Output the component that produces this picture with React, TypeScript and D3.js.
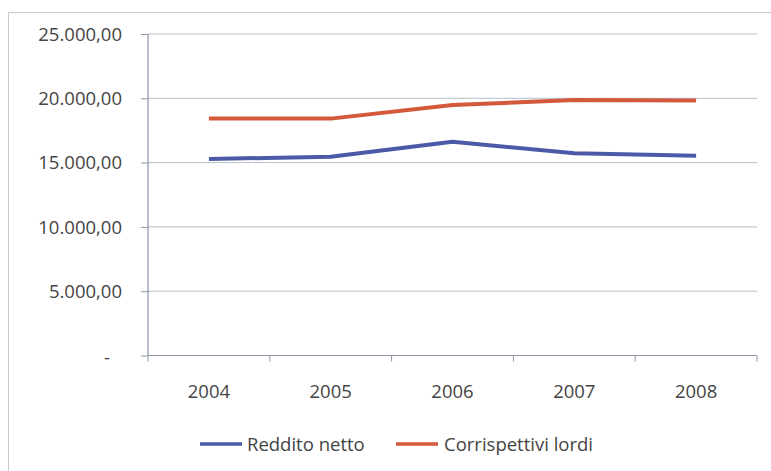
import React, { useEffect, useRef } from 'react';
import { axisLeft, line, scaleBand, scaleLinear, select, ScaleLinear } from 'd3';

const years = ['2004', '2005', '2006', '2007', '2008'];
const redditoNetto = [15280, 15460, 16620, 15720, 15540];
const corrispettiviLordi = [18420, 18420, 19480, 19860, 19820];
const yTicks = [0, 5000, 10000, 15000, 20000, 25000];
const seriesNames = ['Reddito netto', 'Corrispettivi lordi'];

const BLUE = '#4a5aa6';
const RED = '#d4583a';
const FONT = "'Open Sans', sans-serif";
const TEXT = '#444';

// 25000 -> "25.000,00", 0 -> "-"
const fmt = (v: number) => {
  if (v === 0) return '-';
  const int = Math.round(v)
    .toString()
    .replace(/\B(?=(\d{3})+(?!\d))/g, '.');
  return `${int},00`;
};

interface AxisLeftProps {
  scale: ScaleLinear<number, number, never>;
  x: number;
}

function AxisLeft({ scale, x }: AxisLeftProps) {
  const ref = useRef<SVGGElement>(null);

  useEffect(() => {
    if (ref.current) {
      select(ref.current)
        .call(axisLeft(scale).tickValues(yTicks).tickSize(7).tickPadding(19).tickFormat((d) => fmt(+d)))
        .call((g) => {
          g.select('.domain').remove();
          g.selectAll('.tick line').attr('stroke', '#8e95a6');
          g.selectAll('.tick text')
            .attr('font-family', FONT)
            .attr('font-size', 18.5)
            .attr('fill', TEXT)
            .attr('dx', (d) => (+d === 0 ? -12 : 0))
            .attr('dy', (d) => (+d === 0 ? '0.45em' : '0.34em'));
        });
    }
  }, [scale]);

  return <g ref={ref} transform={`translate(${x},0)`} />;
}

export default function App() {
  const W = 771;
  const H = 471;
  const left = 148;
  const right = 757;
  const bottom = 355.5;
  const top = 34;

  const x = scaleBand().domain(years).range([left, right]).padding(0);
  const y = scaleLinear().domain([0, 25000]).range([bottom, top]);
  const cx = (d: string) => (x(d) ?? 0) + x.bandwidth() / 2;

  const path = (vals: number[]) =>
    line<number>()
      .x((_, i) => cx(years[i]))
      .y((v) => y(v))(vals) ?? '';

  const boundaries = [...years.map((d) => x(d) ?? 0), right];

  const legend = [
    { name: seriesNames[0], color: BLUE, x0: 200, x1: 242, tx: 247 },
    { name: seriesNames[1], color: RED, x0: 396, x1: 438, tx: 444 },
  ];

  return (
    <svg
      width={W}
      height={H}
      style={{ position: 'absolute', left: 0, top: 0, background: '#fff' }}
    >
      <rect x={8.5} y={12.5} width={W + 20} height={H + 20} fill="#fff" stroke="#c9c9c9" />

      {yTicks.slice(1).map((t) => (
        <line key={`g-${t}`} x1={left} x2={right} y1={y(t)} y2={y(t)} stroke="#b9bccb" strokeWidth={1} />
      ))}

      <line x1={left} x2={left} y1={top} y2={bottom} stroke="#8e95a6" strokeWidth={1.2} />
      <line x1={left} x2={right} y1={bottom} y2={bottom} stroke="#8e95a6" strokeWidth={1.2} />
      {boundaries.map((b, i) => (
        <line key={`t-${i}`} x1={b} x2={b} y1={bottom} y2={bottom + 6} stroke="#8e95a6" />
      ))}

      <AxisLeft scale={y} x={left} />

      {years.map((d) => (
        <text
          key={`xl-${d}`}
          x={cx(d)}
          y={398}
          textAnchor="middle"
          fontFamily={FONT}
          fontSize={18.5}
          fill={TEXT}
        >
          {d}
        </text>
      ))}

      <path d={path(corrispettiviLordi)} fill="none" stroke={RED} strokeWidth={4} strokeLinejoin="round" />
      <path d={path(redditoNetto)} fill="none" stroke={BLUE} strokeWidth={4} strokeLinejoin="round" />

      {legend.map((l) => (
        <g key={l.name}>
          <line x1={l.x0} x2={l.x1} y1={444} y2={444} stroke={l.color} strokeWidth={3.5} />
          <text x={l.tx} y={450.5} fontFamily={FONT} fontSize={18.5} fill={TEXT}>
            {l.name}
          </text>
        </g>
      ))}
    </svg>
  );
}
